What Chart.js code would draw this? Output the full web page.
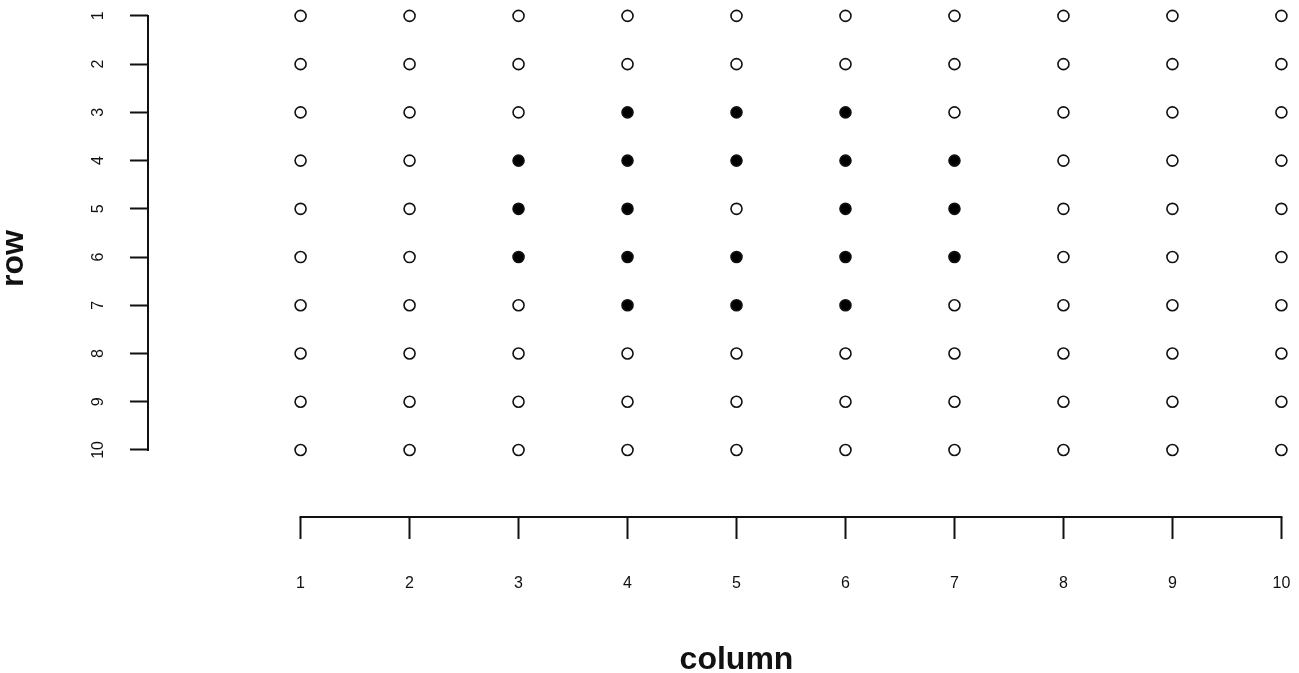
<!DOCTYPE html>
<html>
<head>
<meta charset="utf-8">
<script src="https://cdn.jsdelivr.net/npm/chart.js@4/dist/chart.umd.min.js"></script>
<style>
  html, body { margin: 0; padding: 0; background: #fff; overflow: hidden; }
  #wrap { width: 1325px; height: 673px; position: relative; }
</style>
</head>
<body>
<div id="wrap"><canvas id="grid"></canvas></div>
<script>
// categories / tick labels
const columns = [1, 2, 3, 4, 5, 6, 7, 8, 9, 10];
const rows = [1, 2, 3, 4, 5, 6, 7, 8, 9, 10];

// 1 = filled dot, 0 = open circle (one array per row, read left to right)
const row1 = [0, 0, 0, 0, 0, 0, 0, 0, 0, 0];
const row2 = [0, 0, 0, 0, 0, 0, 0, 0, 0, 0];
const row3 = [0, 0, 0, 1, 1, 1, 0, 0, 0, 0];
const row4 = [0, 0, 1, 1, 1, 1, 1, 0, 0, 0];
const row5 = [0, 0, 1, 1, 0, 1, 1, 0, 0, 0];
const row6 = [0, 0, 1, 1, 1, 1, 1, 0, 0, 0];
const row7 = [0, 0, 0, 1, 1, 1, 0, 0, 0, 0];
const row8 = [0, 0, 0, 0, 0, 0, 0, 0, 0, 0];
const row9 = [0, 0, 0, 0, 0, 0, 0, 0, 0, 0];
const row10 = [0, 0, 0, 0, 0, 0, 0, 0, 0, 0];
const filled = [row1, row2, row3, row4, row5, row6, row7, row8, row9, row10];

let points = [];
let fills = [];
rows.forEach(function (r, i) {
  columns.forEach(function (c, j) {
    points.push({ x: c, y: r });
    fills.push(filled[i][j] ? '#000' : '#fff');
  });
});

const ink = '#111';
const tickFont = { family: "'Liberation Sans', Arial, sans-serif", size: 16 };
const titleFont = { family: "'Liberation Sans', Arial, sans-serif", size: 32, weight: 'bold', lineHeight: 1 };

// R style axis: line only between first and last tick
const axisLines = {
  id: 'axisLines',
  afterDraw(chart) {
    const ctx = chart.ctx;
    const xs = chart.scales.x, ys = chart.scales.y;
    const area = chart.chartArea;
    ctx.save();
    ctx.strokeStyle = ink;
    ctx.lineWidth = 2;
    ctx.beginPath();
    ctx.moveTo(xs.getPixelForValue(columns[0]) - 1, area.bottom);
    ctx.lineTo(xs.getPixelForValue(columns[columns.length - 1]) + 1, area.bottom);
    ctx.moveTo(area.left, ys.getPixelForValue(rows[0]) - 1);
    ctx.lineTo(area.left, ys.getPixelForValue(rows[rows.length - 1]) + 1);
    ctx.stroke();
    ctx.restore();
  }
};

let ctx = document.getElementById('grid').getContext('2d');
let gridChart = new Chart(ctx, {
  type: 'scatter',
  data: {
    datasets: [{
      data: points,
      pointRadius: 5.5,
      pointHoverRadius: 5.5,
      pointBorderWidth: 1.6,
      pointBorderColor: ink,
      pointBackgroundColor: fills
    }]
  },
  options: {
    responsive: true,
    maintainAspectRatio: false,
    animation: false,
    events: [],
    layout: { padding: 0, autoPadding: false },
    plugins: {
      legend: { display: false },
      tooltip: { enabled: false }
    },
    scales: {
      x: {
        type: 'linear',
        position: 'bottom',
        min: -0.4,
        max: 10.4,
        afterBuildTicks: function (scale) {
          scale.ticks = columns.map(v => ({ value: v }));
        },
        afterFit: function (scale) {
          scale.height = 156;
          scale.paddingLeft = 0;
          scale.paddingRight = 0;
        },
        border: { display: false },
        grid: { drawOnChartArea: false, drawTicks: true, tickLength: 22, tickWidth: 2, tickColor: ink, color: ink },
        ticks: { color: ink, font: tickFont, padding: 35, autoSkip: false, maxRotation: 0 },
        title: { display: true, text: 'column', color: ink, font: titleFont, padding: { top: 0, bottom: -3 } }
      },
      y: {
        type: 'linear',
        position: 'left',
        reverse: true,
        min: 0.67,
        max: 11.39,
        afterBuildTicks: function (scale) {
          scale.ticks = rows.map(v => ({ value: v }));
        },
        afterFit: function (scale) {
          scale.width = 148;
          scale.paddingTop = 0;
          scale.paddingBottom = 0;
        },
        border: { display: false },
        grid: { drawOnChartArea: false, drawTicks: true, tickLength: 18, tickWidth: 2, tickColor: ink, color: ink },
        ticks: { color: ink, font: tickFont, padding: 23, autoSkip: false, minRotation: 90, maxRotation: 90, crossAlign: 'center' },
        title: { display: true, text: 'row', color: ink, font: titleFont, padding: { top: -2, bottom: 0 } }
      }
    }
  },
  plugins: [axisLines]
});
</script>
</body>
</html>
